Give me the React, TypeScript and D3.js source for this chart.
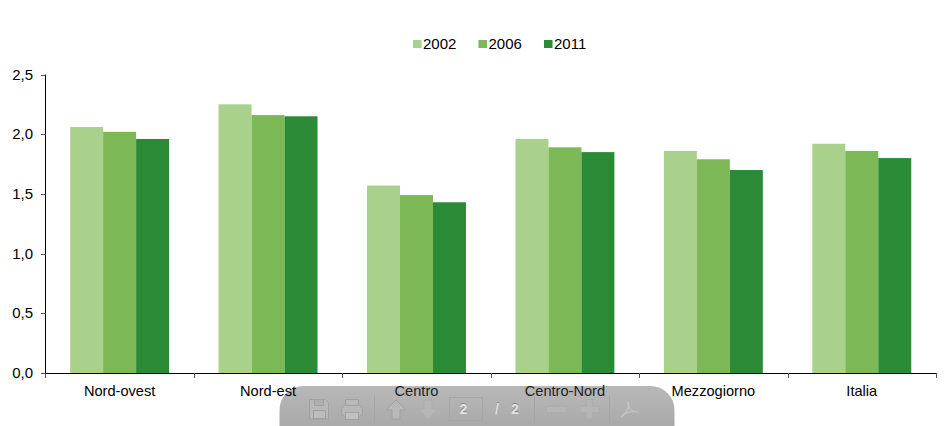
import React from "react";
import * as d3 from "d3";

const categories = ["Nord-ovest", "Nord-est", "Centro", "Centro-Nord", "Mezzogiorno", "Italia"];
const years = ["2002", "2006", "2011"];
const values2002 = [2.06, 2.25, 1.57, 1.96, 1.86, 1.92];
const values2006 = [2.02, 2.16, 1.49, 1.89, 1.79, 1.86];
const values2011 = [1.96, 2.15, 1.43, 1.85, 1.7, 1.8];
const yTicks = [0, 0.5, 1, 1.5, 2, 2.5];

const series = [values2002, values2006, values2011];
const colors = ["#a9d18b", "#7cb855", "#2b8a36"];
const font = "'Liberation Sans', Arial, sans-serif";

const width = 945;
const height = 426;

const x = d3.scaleBand().domain(categories).range([45.4, 936]);
const inner = d3.scaleBand().domain(years).range([0, x.bandwidth()]).paddingInner(0).paddingOuter(0.75);
const y = d3.scaleLinear().domain([0, 2.5]).range([373, 74.5]);
const fmt = (v: number) => v.toFixed(1).replace(".", ",");

// PDF viewer toolbar that sits over the chart
const Toolbar = () => {
  const ico = "#b8b8b8";
  const edge = "#a0a0a0";
  return (
    <g>
      <rect x={279.5} y={386} width={395} height={64} rx={24} fill="url(#bar)" />
      <g fill={ico} stroke={edge} strokeWidth={1}>
        <path d="M309.5 399.5h16l3 3v16.5h-19z" />
        <rect x={314.5} y={399.5} width={9} height={6} fill="#aeaeae" />
        <rect x={313.5} y={410.5} width={12} height={8} fill="#bcbcbc" />
        <rect x={345.5} y={399.5} width={13} height={7} />
        <rect x={341.5} y={405.5} width={21} height={11} rx={4} />
        <rect x={345.5} y={412.5} width={13} height={7} fill="#c0c0c0" />
        <path d="M396 400l10 10h-6v9h-8v-9h-6z" />
      </g>
      <g fill="#b6b6b6" stroke="#adadad" strokeWidth={1}>
        <path d="M428 419l10-10h-6v-9h-8v9h-6z" />
        <rect x={546.5} y={406.5} width={20} height={6} rx={1} />
        <path d="M586.5 399.5h6v7h6.5v6h-6.5v6.5h-6v-6.5h-6.500v-6h6.500z" />
      </g>
      <path d="M628 401c2 6 0 10-7 16M628 401c-1 7 4 11 11 11M621 417c4-4 11-6 18-5" fill="none" stroke="#c4c4c4" strokeWidth={1.2} />
      <g stroke="#a4a4a4" strokeWidth={1}>
        <line x1={374.5} x2={374.5} y1={396} y2={422} />
        <line x1={534.5} x2={534.5} y1={396} y2={422} />
        <line x1={609.5} x2={609.5} y1={396} y2={422} />
      </g>
      <rect x={449.5} y={397.5} width={33} height={23} fill="none" stroke="#a6a6a6" />
      <g fontFamily={font} fontSize={14} fontWeight="bold" textAnchor="middle">
        <g fill="#858585" transform="translate(0,-1)">
          <text x={463.5} y={414}>2</text>
          <text x={497} y={414}>/</text>
          <text x={515} y={414}>2</text>
        </g>
        <g fill="#e2e2e2">
          <text x={463.5} y={414}>2</text>
          <text x={497} y={414}>/</text>
          <text x={515} y={414}>2</text>
        </g>
      </g>
    </g>
  );
};

export default function App() {
  return (
    <svg
      width={width}
      height={height}
      style={{ position: "absolute", left: 0, top: 0, display: "block", background: "#fff" }}
      fontFamily={font}
      fontSize={15}
    >
      <defs>
        <linearGradient id="bar" x1="0" x2="0" y1="0" y2="1">
          <stop offset="0" stopColor="#b8b8b8" />
          <stop offset="0.65" stopColor="#a9a9a9" />
          <stop offset="1" stopColor="#9c9c9c" />
        </linearGradient>
      </defs>

      {/* legend */}
      {years.map((yr, i) => (
        <g key={yr} transform={`translate(${413 + i * 65.5},0)`}>
          <rect x={0} y={40} width={8.5} height={8} fill={colors[i]} />
          <text x={10} y={49} fill="#000">{yr}</text>
        </g>
      ))}

      {/* bars */}
      {categories.map((c, ci) =>
        years.map((yr, si) => (
          <rect
            key={c + yr}
            x={(x(c) as number) + (inner(yr) as number)}
            y={y(series[si][ci])}
            width={inner.bandwidth()}
            height={y(0) - y(series[si][ci])}
            fill={colors[si]}
          />
        ))
      )}

      {/* y axis */}
      <line x1={45.5} x2={45.5} y1={y(2.5)} y2={y(0)} stroke="#000" />
      {yTicks.map((t) => (
        <g key={t}>
          <line x1={41} x2={45.5} y1={Math.round(y(t)) + 0.5} y2={Math.round(y(t)) + 0.5} stroke="#555" />
          <text x={33} y={y(t) + 5} textAnchor="end" fill="#000">{fmt(t)}</text>
        </g>
      ))}

      {/* x axis */}
      <line x1={45.5} x2={936} y1={y(0) + 0.5} y2={y(0) + 0.5} stroke="#000" />
      {[...categories.map((c) => x(c) as number), 936].map((p) => (
        <line key={p} x1={Math.round(p) + 0.5} x2={Math.round(p) + 0.5} y1={y(0)} y2={y(0) + 5} stroke="#555" />
      ))}

      <Toolbar />

      {/* category labels stay dark on top of the toolbar */}
      {categories.map((c) => (
        <text
          key={c}
          x={(x(c) as number) + x.bandwidth() / 2}
          y={396}
          textAnchor="middle"
          fontSize={14.6}
          fill={c === "Centro" || c === "Centro-Nord" ? "#222" : "#000"}
        >
          {c}
        </text>
      ))}
    </svg>
  );
}
